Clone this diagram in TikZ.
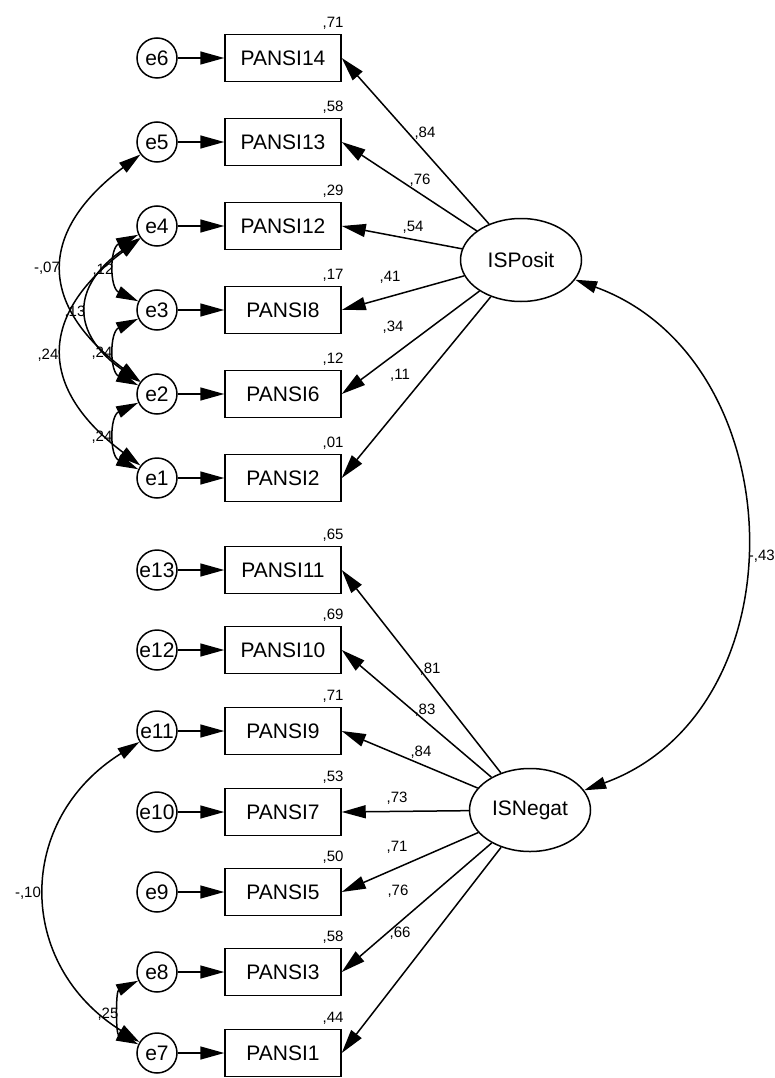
\documentclass[tikz,border=0pt]{standalone}
\usepackage{fontspec}
\setmainfont{Liberation Sans}
\usetikzlibrary{arrows.meta, shapes.geometric, positioning}

\tikzset{
  obsbox/.style={draw, line width=1.5pt, minimum width=116pt, minimum height=47pt, inner sep=0pt, font=\fontsize{21}{25}\selectfont},
  err/.style={draw, circle, line width=1.5pt, minimum size=40pt, inner sep=0pt, font=\fontsize{21}{25}\selectfont},
  latent/.style={draw, ellipse, line width=1.5pt, minimum width=121pt, minimum height=83pt, inner sep=0pt, font=\fontsize{21}{25}\selectfont},
  coef/.style={inner sep=0pt, font=\fontsize{15}{18}\selectfont},
  link/.style={line width=1.5pt, -{Triangle[length=24pt,width=13pt]}},
  cov/.style={line width=1.5pt, {Triangle[length=22pt,width=12pt]}-{Triangle[length=22pt,width=12pt]}}
}

\begin{document}
\begin{tikzpicture}[x=1pt, y=1pt]

\useasboundingbox (0,0) rectangle (775,-1078);

% indicators, errors and squared multiple correlations
\foreach \n/\e/\y/\r in {14/6/58/71, 13/5/142/58, 12/4/226/29, 8/3/310/17, 6/2/394/12, 2/1/478/01,
                         11/13/570/65, 10/12/650/69, 9/11/731/71, 7/10/812/53, 5/9/892/50, 3/8/972/58, 1/7/1053/44}
{
\node[obsbox] (p\n) at (283,-\y) {PANSI\n};
\node[err] (e\e) at (157,-\y) {e\e};
\draw[link] (e\e) -- (p\n);
\node[coef, above left=4pt and -2pt of p\n.north east] (r\n) {,\r};
}

% latent factors
\node[latent] (ISPosit) at (521,-260) {ISPosit};
\node[latent] (ISNegat) at (530,-810) {ISNegat};

% loadings
\foreach \n/\lx/\ly/\l in {14/425/133/84, 13/420/180/76, 12/413/227/54, 8/390/277/41, 6/393/327/34, 2/400/375/11}
{
\draw[link] (ISPosit) -- (p\n.east);
\node[coef] (lam\n) at (\lx,-\ly) {,\l};
}
\foreach \n/\lx/\ly/\l in {11/430/669/81, 10/425/710/83, 9/421/752/84, 7/397/798/73, 5/397/847/71, 3/398/891/76, 1/400/933/66}
{
\draw[link] (ISNegat) -- (p\n.east);
\node[coef] (lam\n) at (\lx,-\ly) {,\l};
}

% covariances
\draw[cov] (ISPosit) to[out=-20, in=20, looseness=1.17] (ISNegat);
\node[coef, anchor=east] (c43) at (775,-556) {-,43};

\draw[cov] (e5) to[out=217, in=143, looseness=1.45] (e2);
\draw[cov] (e4) to[out=217, in=143, looseness=1.45] (e1);
\draw[cov] (e4) to[out=215, in=145, looseness=1.5] (e2);
\draw[cov] (e4) to[out=205, in=155, looseness=1.22] (e3);
\draw[cov] (e3) to[out=205, in=155, looseness=1.22] (e2);
\draw[cov] (e2) to[out=205, in=155, looseness=1.22] (e1);
\node[coef] (c52) at (47,-268) {-,07};
\node[coef] (c41) at (48,-355) {,24};
\node[coef] (c42) at (75,-312) {,13};
\node[coef] (c43b) at (103,-270) {,12};
\node[coef] (c32) at (102,-353) {,24};
\node[coef] (c21) at (102,-437) {,24};

\draw[cov] (e11) to[out=212, in=148, looseness=1.25] (e7);
\draw[cov] (e8) to[out=205, in=155, looseness=1.0] (e7);
\node[coef] (c117) at (28,-893) {-,10};
\node[coef] (c87) at (108,-1014) {,25};

\end{tikzpicture}
\end{document}
